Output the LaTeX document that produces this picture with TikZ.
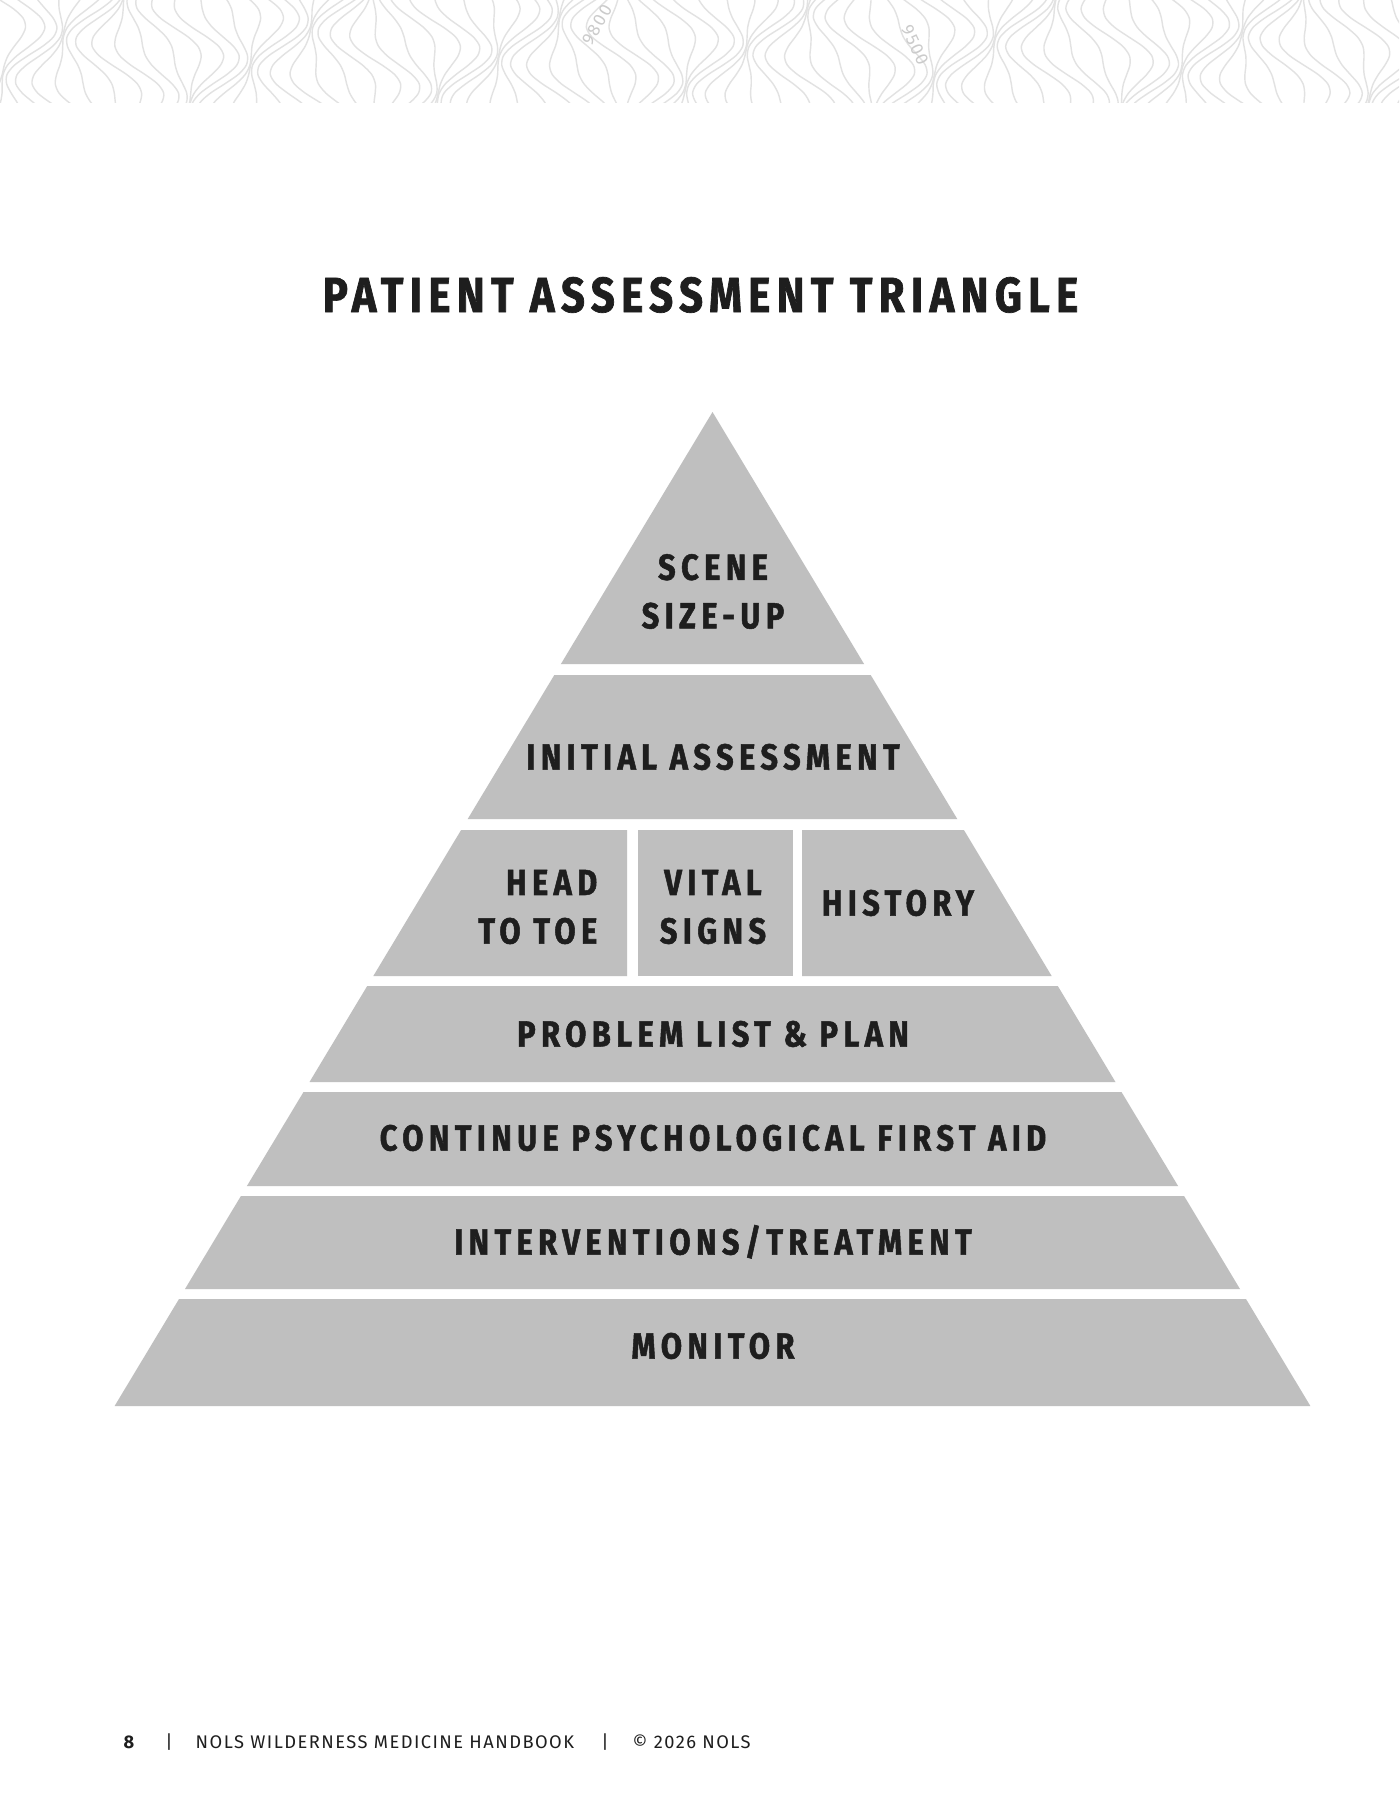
\documentclass[tikz,border=0pt]{standalone}
\usepackage{fontspec}
\setmainfont{Fira Sans}
\newfontfamily\bandfont{Fira Sans}[FakeStretch=0.85,LetterSpace=15,BoldFeatures={FakeBold=1.4}]
\newfontfamily\titlefont{Fira Sans}[FakeStretch=0.85,LetterSpace=13,BoldFeatures={FakeBold=1.4}]
\newfontfamily\footfont{Fira Sans}[LetterSpace=8]
\definecolor{bandgray}{RGB}{191,191,191}
\definecolor{inkblack}{RGB}{30,30,30}
\definecolor{contourgray}{RGB}{226,226,226}
\tikzset{
  band/.style={fill=bandgray},
  bandlabel/.style={font=\bandfont\bfseries\fontsize{10.3}{13.8}\selectfont,text=inkblack,align=center,inner sep=0pt},
  titlelabel/.style={font=\titlefont\bfseries\fontsize{14}{16}\selectfont,text=inkblack,inner sep=0pt},
  footlabel/.style={font=\footfont\fontsize{5.2}{6}\selectfont,text=inkblack,inner sep=0pt},
  contour/.style={draw=contourgray,line width=0.4pt},
  contourlabel/.style={font=\footfont\fontsize{5}{6}\selectfont,text=contourgray!90!black,inner sep=0pt}
}
\begin{document}
\begin{tikzpicture}[x=0.01cm,y=-0.01cm]
\fill[white] (0,0) rectangle (1399,1811);
\useasboundingbox (0,0) rectangle (1399,1811);
% contour strip
\begin{scope}
\clip (0,0) rectangle (1399,102);
\foreach \i in {0,...,95}
  \draw[contour] plot[domain=-10:112,samples=14,smooth,variable=\t]
    ({\i*15+22*sin(2.4*\t+23*\i)+8*sin(5*\t-41*\i)},\t);
\end{scope}
\node[contourlabel,rotate=60] (h9800) at (597,25) {9800};
\node[contourlabel,rotate=-65] (h9500) at (915,45) {9500};

\node[titlelabel,anchor=base] (title) at (700.5,312) {PATIENT ASSESSMENT TRIANGLE};

\fill[band] (712.5,412) -- (864.1,664) -- (560.9,664) -- cycle;
\fill[band] (554.3,675) -- (870.7,675) -- (957.3,819) -- (467.7,819) -- cycle;
\fill[band] (461.1,830) -- (627,830) -- (627,976) -- (373.3,976) -- cycle;
\fill[band] (638,830) rectangle (793,976);
\fill[band] (802,830) -- (963.9,830) -- (1051.7,976) -- (802,976) -- cycle;
\fill[band] (367.2,986) -- (1057.8,986) -- (1115.5,1082) -- (309.5,1082) -- cycle;
\fill[band] (303.5,1092) -- (1121.5,1092) -- (1178.1,1186) -- (246.9,1186) -- cycle;
\fill[band] (240.9,1196) -- (1184.1,1196) -- (1240,1289) -- (185,1289) -- cycle;
\fill[band] (179,1299) -- (1246,1299) -- (1310.4,1406) -- (114.6,1406) -- cycle;

\node[bandlabel] (scene) at (713,591.5) {SCENE\\SIZE-UP};
\node[bandlabel,anchor=base] (initial) at (713,769.5) {INITIAL ASSESSMENT};
\node[bandlabel,align=right,anchor=east] (headtoe) at (598,907) {HEAD\\TO TOE};
\node[bandlabel] (vital) at (713,907) {VITAL\\SIGNS};
\node[bandlabel,anchor=base] (history) at (898,915.5) {HISTORY};
\node[bandlabel,anchor=base] (problem) at (713,1046.5) {PROBLEM LIST \& PLAN};
\node[bandlabel,anchor=base] (firstaid) at (713,1150.5) {CONTINUE PSYCHOLOGICAL FIRST AID};
\node[bandlabel,anchor=base] (treat) at (713,1254.5) {INTERVENTIONS/TREATMENT};
\node[bandlabel,anchor=base] (monitor) at (713,1358.5) {MONITOR};

\node[footlabel,font=\footfont\bfseries\fontsize{5.2}{6}\selectfont,anchor=base] (page) at (129,1748) {8};
\node[footlabel,anchor=base] (bar1) at (169,1748) {|};
\node[footlabel,anchor=base west] (book) at (195,1748) {NOLS WILDERNESS MEDICINE HANDBOOK};
\node[footlabel,anchor=base] (bar2) at (605,1748) {|};
\node[footlabel,anchor=base west] (copy) at (632,1748) {© 2026 NOLS};
\end{tikzpicture}
\end{document}
